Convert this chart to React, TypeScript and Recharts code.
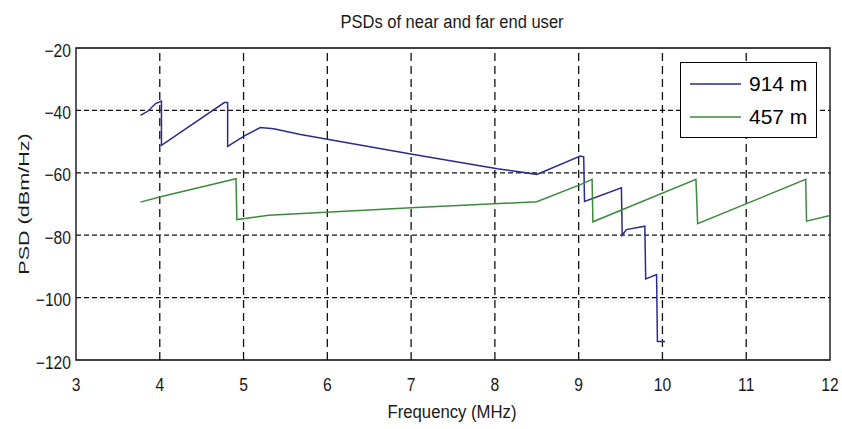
import { LineChart, Line, XAxis, YAxis, ReferenceLine, ReferenceArea, Legend } from "recharts"

// Frequency axis (MHz) and PSD axis (dBm/Hz)
const xTicks = [3, 4, 5, 6, 7, 8, 9, 10, 11, 12]
const yTicks = [-120, -100, -80, -60, -40, -20]
const seriesNames = ["914 m", "457 m"]

// 914 m loop (far end)
const farFreq = [3.77, 3.86, 3.95, 4.02, 4.02, 4.77, 4.81, 4.81, 5.02, 5.2, 5.36, 5.68, 7.03, 8.03, 8.5, 9.02, 9.06, 9.07, 9.51, 9.52, 9.57, 9.79, 9.8, 9.93, 9.94, 10.03]
const farPsd = [-41.6, -40.2, -37.8, -37.0, -51.2, -37.5, -37.5, -51.5, -48.0, -45.5, -45.9, -47.7, -54.1, -58.7, -60.5, -54.6, -54.9, -69.2, -64.8, -80.0, -78.2, -77.1, -94.0, -92.6, -114.1, -114.1]

// 457 m loop (near end)
const nearFreq = [3.77, 4.01, 4.91, 4.92, 5.3, 7.0, 8.5, 9.02, 9.16, 9.17, 10.4, 10.42, 11.71, 11.72, 12.0]
const nearPsd = [-69.4, -67.7, -61.9, -75.0, -73.6, -71.2, -69.3, -63.8, -62.1, -75.7, -62.1, -76.3, -62.1, -75.5, -73.7]

const farData = farFreq.map((f, i) => ({ f, psd: farPsd[i] }))
const nearData = nearFreq.map((f, i) => ({ f, psd: nearPsd[i] }))

const FONT = "'Liberation Sans', Arial, sans-serif"
const BLUE = "#2b2b8c"
const GREEN = "#3d8a3d"

const fmt = (v: number) => String(v).replace("-", "\u2212")

const XTick = (props: any) => {
  const { x, y, payload } = props
  return (
    <text
      transform={`translate(${x},${y + 31}) scale(0.87,1)`}
      textAnchor="middle"
      fontSize={18}
      fontFamily={FONT}
      fill="#1a1a1a"
    >
      {fmt(payload.value)}
    </text>
  )
}

const YTick = (props: any) => {
  const { x, y, payload } = props
  return (
    <text
      transform={`translate(${x - 5},${y + 8.5}) scale(0.87,1)`}
      textAnchor="end"
      fontSize={18}
      fontFamily={FONT}
      fill="#1a1a1a"
    >
      {fmt(payload.value)}
    </text>
  )
}

const LegendBox = (props: any) => {
  const items = [...(props.payload || [])].sort(
    (a: any, b: any) => seriesNames.indexOf(a.value) - seriesNames.indexOf(b.value)
  )
  return (
    <div
      style={{
        width: 137,
        height: 76,
        boxSizing: "border-box",
        border: "1px solid #000",
        background: "#fff",
        fontFamily: FONT,
        fontSize: 21,
        color: "#000",
        paddingTop: 4,
      }}
    >
      {items.map((it: any) => (
        <div key={it.value} style={{ display: "flex", alignItems: "center", height: 33 }}>
          <svg width={68} height={10} style={{ display: "block" }}>
            <line x1={9} x2={60} y1={5} y2={5} stroke={it.color} strokeWidth={1.5} />
          </svg>
          <span>{it.value}</span>
        </div>
      ))}
    </div>
  )
}

export default function App() {
  return (
    <div style={{ position: "absolute", left: 0, top: 0, width: 842, height: 429, background: "#fff" }}>
      <LineChart width={842} height={429} margin={{ top: 48, right: 12, bottom: 29, left: 0 }}>
        <XAxis
          type="number"
          dataKey="f"
          domain={[3, 12]}
          ticks={xTicks}
          interval={0}
          allowDataOverflow
          axisLine={false}
          tickLine={false}
          tickSize={0}
          tickMargin={0}
          height={40}
          tick={XTick}
        />
        <YAxis
          type="number"
          dataKey="psd"
          domain={[-120, -20]}
          ticks={yTicks}
          interval={0}
          allowDataOverflow
          axisLine={false}
          tickLine={false}
          tickSize={0}
          tickMargin={0}
          width={76}
          tick={YTick}
        />
        {xTicks.slice(1, -1).map((t) => (
          <ReferenceLine key={"x" + t} x={t} stroke="#111" strokeWidth={1.3} strokeDasharray="8 5" />
        ))}
        {yTicks.slice(1, -1).map((t) => (
          <ReferenceLine key={"y" + t} y={t} stroke="#111" strokeWidth={1.3} strokeDasharray="5 3" />
        ))}
        <ReferenceArea x1={3} x2={12} y1={-120} y2={-20} fill="none" fillOpacity={0} stroke="#000" strokeWidth={1.3} />
        <Line
          data={farData}
          dataKey="psd"
          name={seriesNames[0]}
          type="linear"
          stroke={BLUE}
          strokeWidth={1.5}
          dot={false}
          isAnimationActive={false}
        />
        <Line
          data={nearData}
          dataKey="psd"
          name={seriesNames[1]}
          type="linear"
          stroke={GREEN}
          strokeWidth={1.5}
          dot={false}
          isAnimationActive={false}
        />
        <Legend
          layout="horizontal"
          verticalAlign="middle"
          align="center"
          content={LegendBox}
          wrapperStyle={{ position: "absolute", left: 680, top: 62, width: 137, height: 76 }}
        />
      </LineChart>
      <svg width={842} height={429} style={{ position: "absolute", left: 0, top: 0, pointerEvents: "none" }}>
        <text
          transform="translate(452,28) scale(0.87,1)"
          textAnchor="middle"
          fontSize={19}
          fontFamily={FONT}
          fill="#1a1a1a"
        >
          PSDs of near and far end user
        </text>
        <text
          transform="translate(452,418) scale(0.88,1)"
          textAnchor="middle"
          fontSize={19}
          fontFamily={FONT}
          fill="#1a1a1a"
        >
          Frequency (MHz)
        </text>
        <text
          transform="translate(29,204) rotate(-90) scale(1.2,0.85)"
          textAnchor="middle"
          fontSize={18}
          fontFamily={FONT}
          fill="#1a1a1a"
        >
          PSD (dBm/Hz)
        </text>
      </svg>
    </div>
  )
}
